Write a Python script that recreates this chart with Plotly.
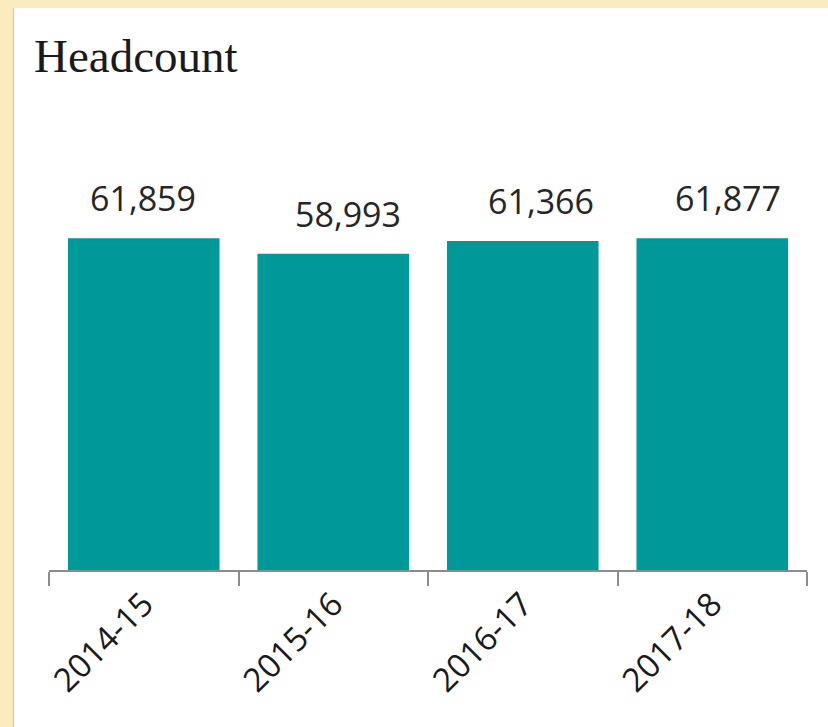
import plotly.graph_objects as go

categories = ["2014-15", "2015-16", "2016-17", "2017-18"]
headcount = [61859, 58993, 61366, 61877]
value_labels = ["61,859", "58,993", "61,366", "61,877"]

# label horizontal nudges (style only)
label_xshift = [-1, 15, 18, 16]

W, H = 828, 727
L, R, T, B = 49, 21, 141, 157
pw, ph = W - L - R, H - T - B

fig = go.Figure()
fig.add_trace(go.Bar(
    x=categories, y=headcount,
    marker=dict(color="#009999", line=dict(width=0)),
    hoverinfo="skip",
))

for i, (c, v, t) in enumerate(zip(categories, headcount, value_labels)):
    fig.add_annotation(
        x=c, y=v, text=t, showarrow=False,
        xref="x", yref="y", yanchor="middle", xanchor="center",
        yshift=40, xshift=label_xshift[i],
        font=dict(family="Open Sans", size=34, color="#262626"),
    )

def px_x(p):
    return (p - L) / pw

def px_y(p):
    return 1 - (p - T) / ph

fig.add_shape(type="rect", xref="paper", yref="paper",
              x0=px_x(14), x1=px_x(830), y0=px_y(730), y1=px_y(8),
              fillcolor="white", line=dict(width=0), layer="below")
fig.add_shape(type="line", xref="paper", yref="paper",
              x0=px_x(13.5), x1=px_x(13.5), y0=px_y(730), y1=px_y(8),
              line=dict(color="#d9cda6", width=1.5), layer="below")

fig.update_layout(
    width=W, height=H,
    margin=dict(l=L, r=R, t=T, b=B),
    paper_bgcolor="#fbecc0",
    plot_bgcolor="rgba(0,0,0,0)",
    bargap=0.2,
    showlegend=False,
    title=dict(text="Headcount", x=34 / W, xanchor="left", xref="container",
               y=1 - 56 / H, yanchor="middle", yref="container",
               font=dict(family="Liberation Serif", size=47, color="#1a1a1a")),
    xaxis=dict(
        range=[-0.5, 3.5], showline=True, linecolor="#8c8c8c", linewidth=1.5,
        ticks="outside", tickson="boundaries", ticklen=14, tickcolor="#8c8c8c",
        tickwidth=1.5, tickangle=-45, showgrid=False, zeroline=False,
        tickfont=dict(family="Open Sans", size=33, color="#1a1a1a"),
        fixedrange=True,
    ),
    yaxis=dict(range=[0, 80000], visible=False, showgrid=False, zeroline=False,
               fixedrange=True),
)

fig.write_html(
    "out.html",
    config={"displayModeBar": False},
    post_script="document.body.style.margin='0';document.body.style.overflow='hidden';",
)
